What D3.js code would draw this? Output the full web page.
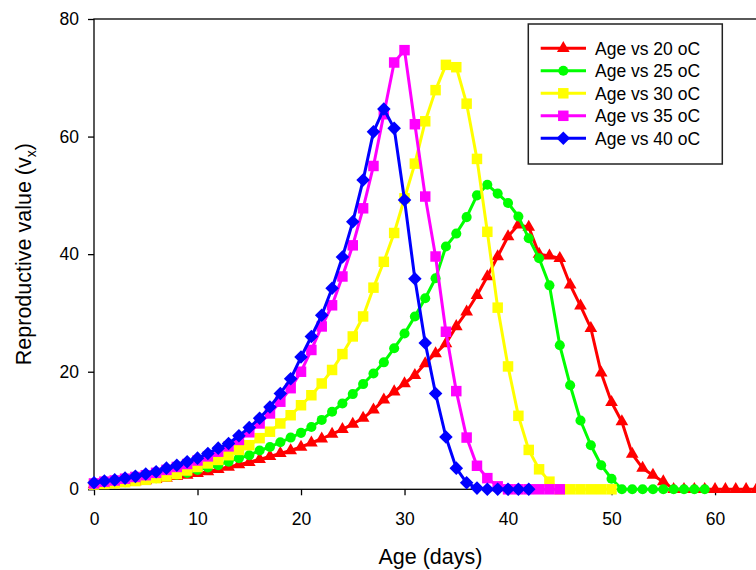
<!DOCTYPE html>
<html>
<head>
<meta charset="utf-8">
<script src="https://cdn.jsdelivr.net/npm/d3@7/dist/d3.min.js"></script>
<style>
  html, body { margin: 0; padding: 0; background: #fff; }
  svg { display: block; }
  text { font-family: "Liberation Sans", Arial, sans-serif; fill: #000; }
</style>
</head>
<body>
<svg id="chart" width="756" height="570"></svg>
<script>
// Reproductive value (vx) by age (days), one series per rearing temperature.
// Each array holds one value per day, starting at day 0.
const v20 = [0.8, 0.9, 1.0, 1.2, 1.3, 1.5, 1.7, 1.9, 2.2, 2.4,
             2.7, 3.0, 3.4, 3.8, 4.2, 4.6, 5.1, 5.6, 6.1, 6.6,
             7.2, 7.9, 8.6, 9.4, 10.2, 11.1, 12.1, 13.5, 15.2, 16.6,
             18.0, 19.4, 21.4, 23.1, 24.8, 27.7, 30.2, 33.0, 36.2, 39.6,
             43.0, 45.0, 44.6, 40.0, 39.7, 39.3, 34.8, 31.2, 27.4, 19.8,
             14.8, 11.5, 6.0, 3.6, 2.4, 1.3, 0, 0, 0, 0,
             0, 0, 0, 0, 0];
const v25 = [0.8, 0.9, 1.0, 1.2, 1.4, 1.6, 1.9, 2.2, 2.5, 2.8,
             3.3, 3.7, 4.1, 4.7, 5.3, 5.8, 6.6, 7.2, 8.0, 8.8,
             9.6, 10.6, 11.8, 13.2, 14.6, 16.2, 17.9, 19.7, 21.6, 24.0,
             26.5, 29.4, 32.5, 35.9, 41.3, 43.5, 46.3, 50.0, 51.8, 50.3,
             48.7, 46.4, 42.7, 39.3, 34.7, 24.5, 17.7, 11.7, 7.5, 4.1,
             1.8, 0, 0, 0, 0, 0, 0, 0, 0, 0];
const v30 = [0.8, 0.9, 1.0, 1.2, 1.4, 1.6, 1.9, 2.2, 2.6, 3.2,
             3.8, 4.4, 5.0, 5.8, 6.7, 7.5, 8.7, 9.8, 11.2, 12.6,
             14.3, 16.0, 18.0, 20.3, 23.0, 26.0, 29.4, 34.3, 38.7, 43.6,
             49.5, 55.4, 62.6, 67.9, 72.2, 71.8, 65.6, 56.2, 43.8, 30.9,
             20.9, 12.5, 6.7, 3.4, 1.3, 0, 0, 0, 0, 0,
             0];
const v35 = [1.0, 1.3, 1.5, 1.8, 2.1, 2.4, 2.8, 3.3, 3.8, 4.3,
             4.9, 5.6, 6.4, 7.3, 8.4, 9.7, 11.2, 12.9, 14.9, 17.2,
             20.0, 23.7, 27.7, 31.3, 36.2, 41.5, 47.8, 55.0, 63.8, 72.6,
             74.7, 62.1, 49.8, 39.6, 26.8, 16.7, 8.8, 4.0, 1.9, 0.5,
             0, 0, 0, 0, 0, 0];
const v40 = [1.1, 1.4, 1.6, 1.9, 2.2, 2.6, 3.0, 3.6, 4.1, 4.7,
             5.3, 6.1, 7.0, 7.8, 9.1, 10.5, 12.1, 14.0, 16.3, 18.8,
             22.5, 26.0, 29.6, 34.2, 39.5, 45.5, 52.6, 60.8, 64.7, 61.4,
             49.2, 35.8, 24.9, 16.3, 8.9, 3.6, 1.1, 0.2, 0, 0,
             0, 0, 0];

const seriesNames = ["Age vs 20 oC", "Age vs 25 oC", "Age vs 30 oC", "Age vs 35 oC", "Age vs 40 oC"];
const seriesValues = [v20, v25, v30, v35, v40];
const seriesColors = ["#ff0000", "#00ff00", "#ffff00", "#ff00ff", "#0000ff"];

const xTicks = [0, 10, 20, 30, 40, 50, 60];
const yTicks = [0, 20, 40, 60, 80];

// Diamond: a square turned 45 degrees, same width and height.
const symbolRhomb = {
  draw(ctx, size) {
    const r = Math.sqrt(size / 2);
    ctx.moveTo(0, -r); ctx.lineTo(r, 0); ctx.lineTo(0, r); ctx.lineTo(-r, 0); ctx.closePath();
  }
};
const seriesSymbols = [
  d3.symbol(d3.symbolTriangle, 70),
  d3.symbol(d3.symbolCircle, 80),
  d3.symbol(d3.symbolSquare, 110),
  d3.symbol(d3.symbolSquare, 110),
  d3.symbol(symbolRhomb, 92)
];

const svg = d3.select("#chart");
const x = d3.scaleLinear().domain([0, 65]).range([94, 766.8]);
const y = d3.scaleLinear().domain([0, 80]).range([489.3, 19]);

// Plot frame
svg.append("rect")
  .attr("x", x(0)).attr("y", y(80))
  .attr("width", x(65) - x(0)).attr("height", y(0) - y(80))
  .attr("fill", "none").attr("stroke", "#000").attr("stroke-width", 1.3);

// Axes
const gx = svg.append("g").attr("transform", `translate(0,${y(0)})`)
  .call(d3.axisBottom(x).tickValues(xTicks).tickSize(6).tickSizeOuter(0).tickPadding(17));
const gy = svg.append("g").attr("transform", `translate(${x(0)},0)`)
  .call(d3.axisLeft(y).tickValues(yTicks).tickSize(6).tickSizeOuter(0).tickPadding(9));
[gx, gy].forEach(g => {
  g.select(".domain").remove();
  g.selectAll(".tick line").attr("stroke", "#000").attr("stroke-width", 1.3);
  g.selectAll(".tick text").attr("font-size", 17.5).attr("fill", "#000")
    .attr("font-family", "'Liberation Sans', Arial, sans-serif");
});

// Axis titles
svg.append("text")
  .attr("x", x(32.5)).attr("y", 564)
  .attr("text-anchor", "middle").attr("font-size", 21.5)
  .text("Age (days)");
const yTitle = svg.append("text")
  .attr("transform", `translate(31,${(y(0) + y(80)) / 2}) rotate(-90)`)
  .attr("text-anchor", "middle").attr("font-size", 21.5);
yTitle.append("tspan").text("Reproductive value (v");
yTitle.append("tspan").attr("font-size", 14).attr("dy", 5).text("x");
yTitle.append("tspan").attr("dy", -5).text(")");

// Series: lines first, markers over each line, later series on top
const line = d3.line().x((d, i) => x(i)).y(d => y(d));
seriesValues.forEach((vals, k) => {
  const g = svg.append("g");
  g.append("path").datum(vals)
    .attr("d", line).attr("fill", "none")
    .attr("stroke", seriesColors[k]).attr("stroke-width", 3)
    .attr("stroke-linejoin", "round");
  g.selectAll("path.mark").data(vals).join("path")
    .attr("class", "mark")
    .attr("transform", (d, i) => `translate(${x(i)},${y(d)})`)
    .attr("d", seriesSymbols[k]())
    .attr("fill", seriesColors[k]);
});

// Legend
const lg = svg.append("g");
lg.append("rect")
  .attr("x", 528.3).attr("y", 24).attr("width", 194).attr("height", 140)
  .attr("fill", "#fff").attr("stroke", "#222").attr("stroke-width", 1.5);
seriesNames.forEach((name, k) => {
  const cy = 48.3 + k * 22.5;
  lg.append("line")
    .attr("x1", 540.7).attr("x2", 586).attr("y1", cy).attr("y2", cy)
    .attr("stroke", seriesColors[k]).attr("stroke-width", 3);
  lg.append("path")
    .attr("transform", `translate(563.3,${cy})`)
    .attr("d", seriesSymbols[k]())
    .attr("fill", seriesColors[k]);
  lg.append("text")
    .attr("x", 595).attr("y", cy + 6.2)
    .attr("font-size", 17.5)
    .text(name);
});
</script>
</body>
</html>
